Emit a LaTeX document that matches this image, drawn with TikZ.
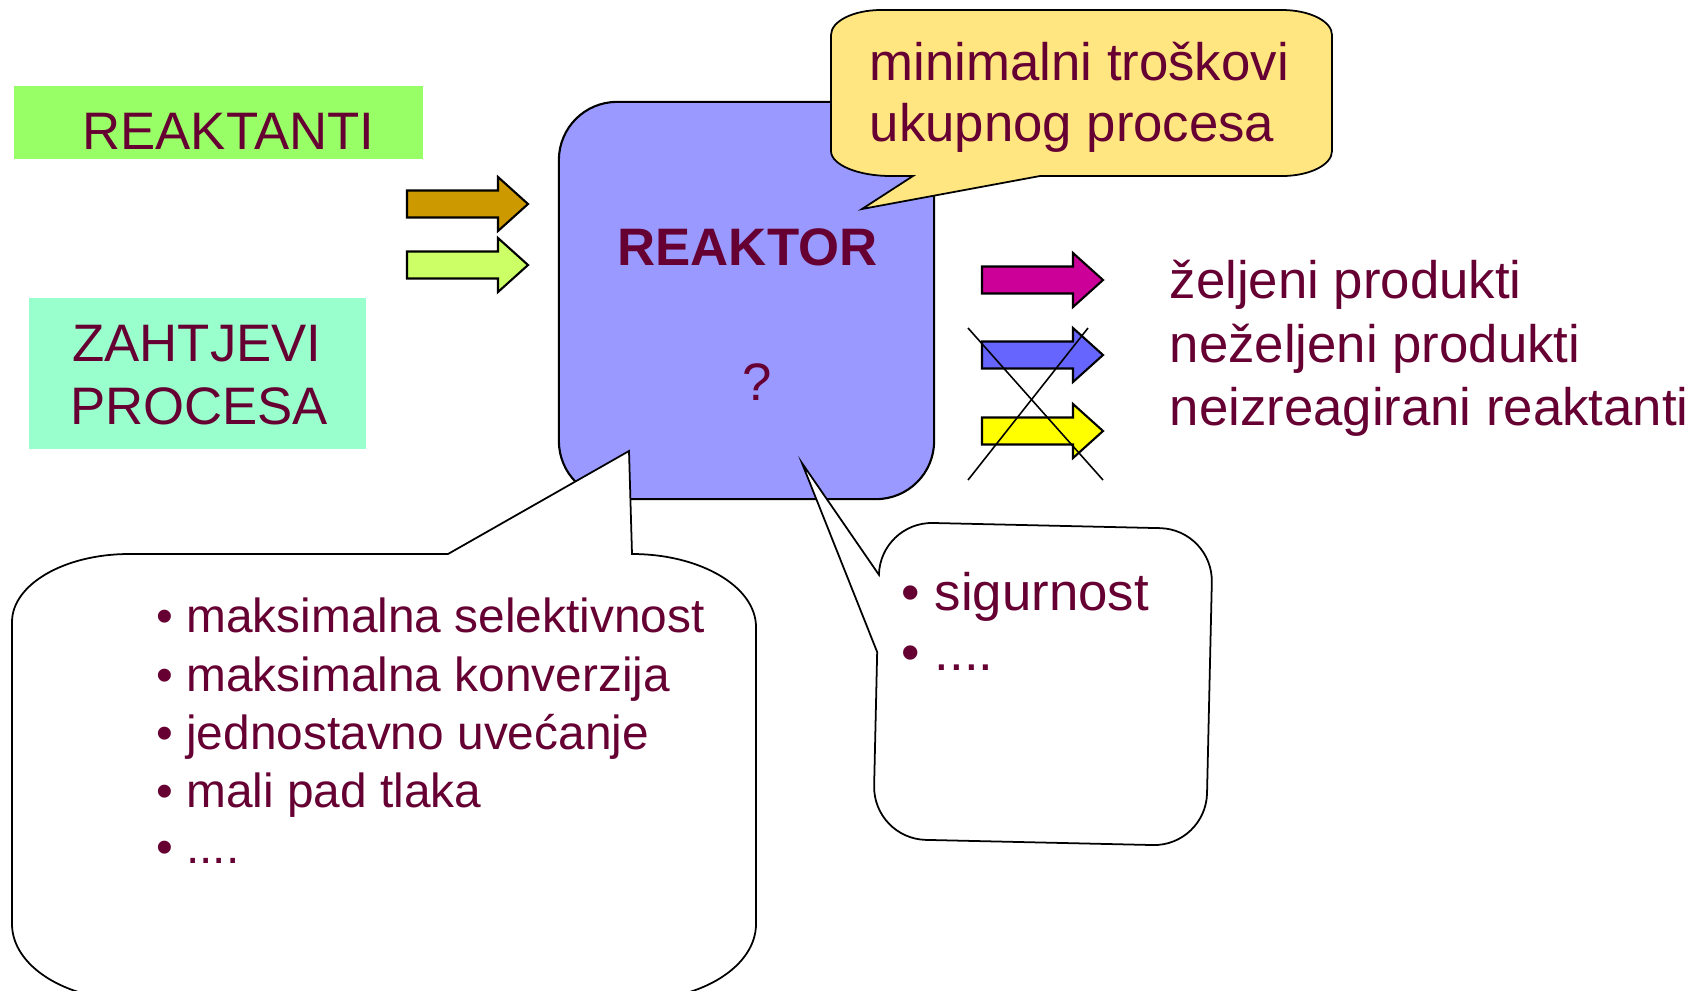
\documentclass[tikz,border=0pt]{standalone}
\usepackage{fontspec}
\setmainfont{Liberation Sans}
\usepackage{xcolor}
\usepackage{tikz}

\definecolor{textred}{HTML}{660033}
\definecolor{reaktantifill}{HTML}{99FF66}
\definecolor{zahtjevifill}{HTML}{99FFCC}
\definecolor{reaktorfill}{HTML}{9999FF}
\definecolor{notefill}{HTML}{FFE680}
\definecolor{brownarrow}{HTML}{CC9900}
\definecolor{limearrow}{HTML}{CCFF66}
\definecolor{magentaarrow}{HTML}{CC0099}
\definecolor{bluearrow}{HTML}{6666FF}
\definecolor{yellowarrow}{HTML}{FFFF00}

\tikzset{
  txt/.style={text=textred, inner sep=0pt, font=\fontsize{15}{18}\selectfont},
  smalltxt/.style={txt, font=\fontsize{13.6}{16}\selectfont},
  outline/.style={draw=black, line width=0.6pt},
  bubble/.style={draw=black, line width=0.5pt, fill=white},
}

% block arrow: #1 fill, #2 left end, #3 middle height
\newcommand{\blockarrow}[3]{%
  \filldraw[outline, fill=#1] (#2,#3-13.5) -- (#2+91,#3-13.5) -- (#2+91,#3-27) -- (#2+121,#3)
    -- (#2+91,#3+27) -- (#2+91,#3+13.5) -- (#2,#3+13.5) -- cycle;}

\begin{document}
\begin{tikzpicture}[x=0.01cm, y=-0.01cm]
\useasboundingbox (0,0) rectangle (1697,990);
\clip (0,0) rectangle (1697,990);

% inputs
\fill[reaktantifill] (14,86) rectangle (423,159);
\node[txt, anchor=base] (reaktanti) at (228.5,149) {REAKTANTI};
\fill[zahtjevifill] (29,298) rectangle (366,449);
\node[txt, anchor=base] (zahtjevi) at (197,361) {ZAHTJEVI};
\node[txt, anchor=base] (procesa) at (199,424) {PROCESA};
\blockarrow{brownarrow}{407}{204}
\blockarrow{limearrow}{407}{265}

% reactor
\node[outline, fill=reaktorfill, rounded corners=0.58cm, minimum width=3.75cm,
  minimum height=3.97cm, inner sep=0pt] (reaktor) at (746.5,300.5) {};
\node[txt, font=\fontsize{15}{18}\bfseries, anchor=base] (naziv) at (747.5,265) {REAKTOR};
\node[txt, anchor=base] (upit) at (757,400) {?};

% costs note
\draw[bubble, fill=notefill] (881,10) -- (1282,10)
  arc[start angle=270, end angle=360, x radius=50, y radius=25] -- (1332,151)
  arc[start angle=0, end angle=90, x radius=50, y radius=25] -- (1040,176) -- (862,209) -- (913,176) -- (891,176)
  arc[start angle=90, end angle=180, x radius=60, y radius=25] -- (831,35)
  arc[start angle=180, end angle=270, x radius=50, y radius=25] -- cycle;
\node[txt, anchor=base west] (troskovi1) at (869,80) {minimalni troškovi};
\node[txt, anchor=base west] (troskovi2) at (869,141) {ukupnog procesa};

% outputs
\blockarrow{magentaarrow}{982}{280}
\blockarrow{bluearrow}{982}{355}
\blockarrow{yellowarrow}{982}{431}
\draw[line width=0.45pt] (968,328) -- (1103,480);
\draw[line width=0.45pt] (1088,328) -- (968,480);
\node[txt, anchor=base west] (zeljeni) at (1169,298) {željeni produkti};
\node[txt, anchor=base west] (nezeljeni) at (1169,362) {neželjeni produkti};
\node[txt, anchor=base west] (neizreagirani) at (1169,425) {neizreagirani reaktanti};

% requirements
\draw[bubble] (129,554) -- (448,554) -- (629,451) -- (632,554)
  arc[start angle=270, end angle=360, x radius=124, y radius=73] -- (756,924)
  arc[start angle=0, end angle=90, x radius=120, y radius=76] -- (132,1000)
  arc[start angle=90, end angle=180, x radius=120, y radius=76] -- (12,622)
  arc[start angle=180, end angle=270, x radius=117, y radius=68] -- cycle;
\node[smalltxt, anchor=base west] (zahtjev1) at (155.6,632) {• maksimalna selektivnost};
\node[smalltxt, anchor=base west] (zahtjev2) at (155.6,691) {• maksimalna konverzija};
\node[smalltxt, anchor=base west] (zahtjev3) at (155.6,749) {• jednostavno uvećanje};
\node[smalltxt, anchor=base west] (zahtjev4) at (155.6,807) {• mali pad tlaka};
\node[smalltxt, anchor=base west] (zahtjev5) at (155.6,863) {• ....};

\begin{scope}[rotate around={-1.3:(1043,683)}]
\draw[bubble] (876.5,655.8) -- (797,468.5) -- (876.5,578.5)
  arc[start angle=180, end angle=270, radius=53] -- (1156.5,525.5)
  arc[start angle=270, end angle=360, radius=53] -- (1209.5,789.5)
  arc[start angle=0, end angle=90, radius=53] -- (929.5,842.5)
  arc[start angle=90, end angle=180, radius=53] -- cycle;
\end{scope}
\node[txt, anchor=base west] (sigurnost) at (901,610) {• sigurnost};
\node[txt, anchor=base west] (ostalo) at (901,670) {• ....};
\end{tikzpicture}
\end{document}
